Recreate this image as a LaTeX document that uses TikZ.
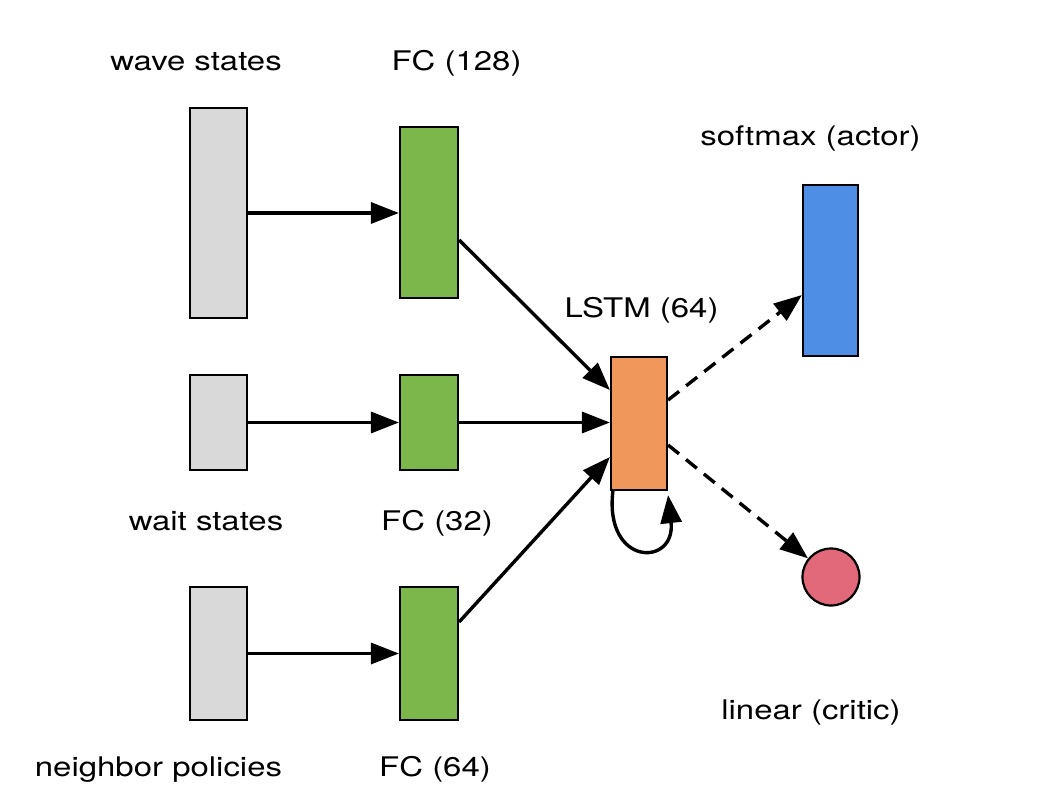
\documentclass[tikz,border=0pt]{standalone}
\usepackage{fontspec}
\setmainfont{TeX Gyre Heros}
\usetikzlibrary{arrows.meta,calc}
\definecolor{cgray}{RGB}{217,217,217}
\definecolor{cgreen}{RGB}{124,183,75}
\definecolor{corange}{RGB}{240,151,91}
\definecolor{cblue}{RGB}{78,143,229}
\definecolor{cred}{RGB}{225,105,121}
\newcommand{\stretchtxt}[1]{\scalebox{1.22}[1]{#1}}
\begin{document}
\begin{tikzpicture}[x=1pt,y=-1pt,
  box/.style={draw=black,line width=2.2pt,rectangle,inner sep=0pt,minimum width=57pt},
  lbl/.style={anchor=base,inner sep=0pt,font=\fontsize{27}{32}\selectfont},
  conn/.style={line width=3.4pt,-{Triangle[length=28pt,width=21pt]}},
  dconn/.style={conn,dash pattern=on 14pt off 9pt}]
\useasboundingbox[fill=white] (0,0) rectangle (1042,794);
% boxes
\node[box,fill=cgray,minimum height=210pt] (wave) at (218.5,213) {};
\node[box,fill=cgray,minimum height=95pt] (wait) at (218.5,422.5) {};
\node[box,fill=cgray,minimum height=133pt] (neigh) at (218.5,653.5) {};
\node[box,fill=cgreen,minimum width=58pt,minimum height=171pt] (fc128) at (429,212.5) {};
\node[box,fill=cgreen,minimum width=58pt,minimum height=95pt] (fc32) at (429,422.5) {};
\node[box,fill=cgreen,minimum width=58pt,minimum height=133pt] (fc64) at (429,653.5) {};
\node[box,fill=corange,minimum width=56pt,minimum height=133pt] (lstm) at (639,423.5) {};
\node[box,fill=cblue,minimum width=55pt,minimum height=171pt] (actor) at (830.5,270.5) {};
\node[draw=black,line width=2.2pt,circle,fill=cred,inner sep=0pt,minimum size=57pt] (critic) at (831,577) {};
% labels
\node[lbl] (lwave) at (196,71) {\stretchtxt{wave states}};
\node[lbl] (lfc128) at (456.5,71) {\stretchtxt{FC (128)}};
\node[lbl] (lsoft) at (810.5,146) {\stretchtxt{softmax (actor)}};
\node[lbl] (llstm) at (641.5,318) {\stretchtxt{LSTM (64)}};
\node[lbl] (lwait) at (206,530) {\stretchtxt{wait states}};
\node[lbl] (lfc32) at (437,530) {\stretchtxt{FC (32)}};
\node[lbl] (llin) at (811,719) {\stretchtxt{linear (critic)}};
\node[lbl] (lneigh) at (158.5,776) {\stretchtxt{neighbor policies}};
\node[lbl] (lfc64) at (435,776) {\stretchtxt{FC (64)}};
% connectors
\draw[conn] (wave.east) -- (wave.east -| fc128.west);
\draw[conn] (wait.east) -- (wait.east -| fc32.west);
\draw[conn] (neigh.east) -- (neigh.east -| fc64.west);
\draw[conn] ($(fc128.east)+(0,27.5)$) -- ($(lstm.west)+(0,-33.5)$);
\draw[conn] (fc32.east) -- (fc32.east -| lstm.west);
\draw[conn] ($(fc64.east)+(0,-31.5)$) -- ($(lstm.west)+(0,33.5)$);
\draw[dconn] ($(lstm.east)+(0,-23.5)$) -- ($(actor.west)+(0,24.5)$);
\draw[dconn] ($(lstm.east)+(0,21.5)$) -- (critic);
\draw[conn] ($(lstm.south west)+(3,0)$) .. controls (604,567) and (676,567) .. ($(lstm.south east)+(0,4)$);
\end{tikzpicture}
\end{document}
